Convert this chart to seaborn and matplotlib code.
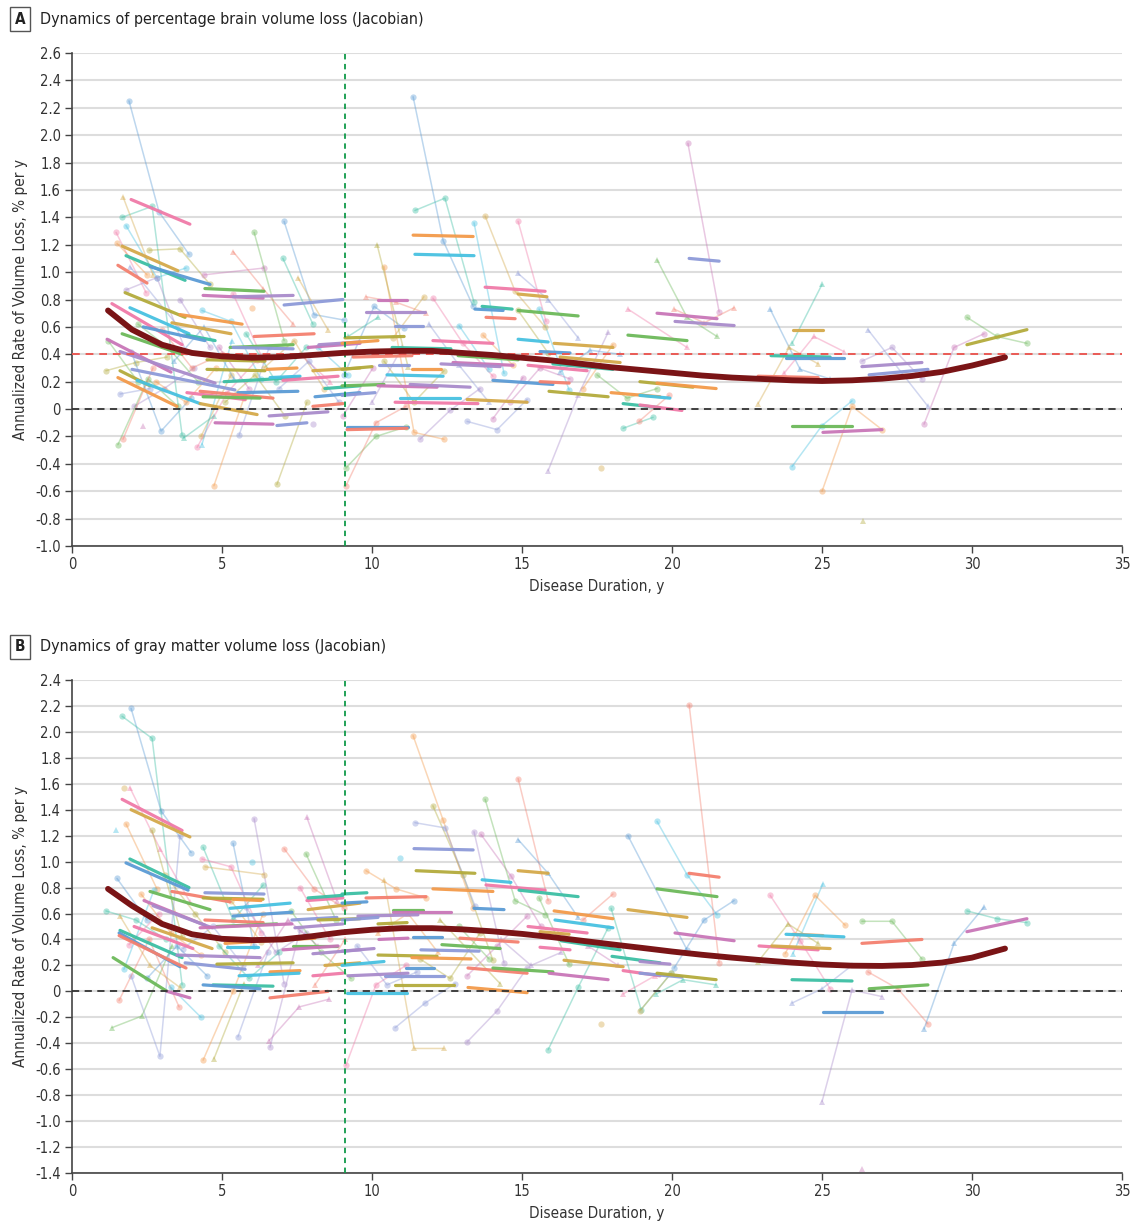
import numpy as np
import pandas as pd
import matplotlib
matplotlib.use("Agg")
import matplotlib.pyplot as plt
import seaborn as sns

# ------------------------------------------------------------------
# Panel A - percentage brain volume loss
# ------------------------------------------------------------------
a_traj_x = [
    [1.9, 2.9, 3.9], [1.67, 2.67, 3.67], [1.7, 2.7], [1.47, 2.47], [1.8, 2.83, 3.8],
    [1.5, 2.5], [2.57, 3.6, 4.6], [1.93, 3.77], [1.8, 2.83, 3.8], [4.4, 6.4],
    [6.07, 7.07], [5.37, 6.37, 7.37], [7.07, 8.07, 9.07], [7.03, 8.03], [7.53, 8.53],
    [5.37, 6.37], [4.33, 5.3, 6.3], [6.0], [1.13, 2.13, 3.17], [1.6, 2.6],
    [2.07, 3.07, 4.07], [2.37], [1.53, 2.53, 3.53], [1.7, 2.7], [1.97, 2.97, 3.97],
    [3.73, 4.73], [4.3, 5.3], [4.17, 5.17, 6.17], [4.33, 5.33], [4.73, 5.73],
    [6.83, 7.83], [5.57, 6.57], [8.03], [9.03, 10.03], [2.2, 3.2, 4.2],
    [3.0, 4.0, 5.0], [3.4, 4.4, 5.4], [5.8, 6.8, 7.8], [6.4, 7.4, 8.4], [7.6, 8.6],
    [8.2, 9.2], [2.8, 3.8, 4.8], [5.1, 6.1, 7.1], [6.9, 7.9, 8.9], [3.6, 4.6],
    [4.9, 5.9], [1.2, 2.2],
    [9.8, 10.8, 11.8], [9.07, 10.07, 11.07], [9.2, 10.2], [10.7, 11.73], [12.03, 13.03, 14.03],
    [12.9, 13.9], [13.7, 14.7], [14.87, 15.87], [13.17, 14.17, 15.17], [11.6, 12.6, 13.6],
    [14.03, 15.03], [9.13, 10.13, 11.13], [9.13, 10.13, 11.13], [16.27, 17.27, 18.27], [18.37, 19.37],
    [17.63], [18.53, 20.5], [15.57, 16.57], [17.03, 18.03], [10.4, 11.4, 12.4],
    [11.9, 12.9, 13.9], [10.0, 11.0], [14.6, 15.6, 16.6], [17.5, 18.5, 19.5], [18.9, 19.9],
    [11.37, 12.37, 13.37], [11.43, 12.43, 13.4], [13.77, 14.77, 15.77], [14.87, 15.8], [13.4, 14.4],
    [10.4, 11.4, 12.4], [10.17, 11.2], [14.87, 15.87, 16.87], [15.87, 16.87, 17.87], [20.53, 21.57],
    [19.5, 20.5, 21.5], [20.07, 21.07, 22.07], [23.27, 24.27, 25.27], [24.0, 25.0], [22.87, 23.9, 24.87],
    [23.73, 24.73, 25.73], [24.0, 25.0, 26.0], [25.0, 26.0, 27.0], [26.37], [26.53, 28.53],
    [26.33, 27.33, 28.33], [28.4, 29.4, 30.4], [29.83, 30.83, 31.83],
]
a_traj_y = [
    [2.25, 1.44, 1.13], [1.40, 1.48, -0.19], [1.55, 0.98], [1.29, 0.85], [1.34, 0.96, 1.03],
    [1.21, 0.98], [1.16, 1.17, 0.91], [1.04, 0.54], [0.87, 0.96, 0.42], [0.98, 1.03],
    [1.29, 0.50], [1.15, 0.88, 0.62], [1.37, 0.69, 0.65], [1.10, 0.62], [0.96, 0.58],
    [0.84, 0.36], [0.72, 0.64, 0.22], [0.74], [0.28, 0.34, 0.38], [0.11, 0.15],
    [0.02, 0.15, 0.30], [-0.12], [-0.26, 0.22, 0.02], [-0.22, 0.30], [0.42, -0.16, 0.08],
    [-0.21, -0.05], [-0.20, 0.25], [-0.28, 0.12, 0.36], [-0.26, 0.50], [-0.56, 0.08],
    [-0.55, 0.05], [-0.19, 0.45], [-0.11], [-0.05, 0.30], [0.62, 0.45, 0.20],
    [0.58, 0.30, 0.40], [0.35, 0.60, 0.22], [0.55, 0.20, 0.45], [0.30, 0.50, 0.15], [0.40, 0.20],
    [0.45, 0.25], [0.20, 0.05, 0.30], [0.05, 0.25, -0.05], [0.15, 0.35, 0.05], [0.80, 0.45],
    [0.45, 0.15], [0.50, 0.20],
    [0.82, 0.78, 0.70], [0.25, 0.75, 0.59], [0.53, 0.67], [0.52, 0.82], [0.81, 0.48, 0.24],
    [0.61, 0.29], [0.54, 0.32], [0.72, 0.41], [-0.09, -0.15, 0.07], [-0.22, -0.01, 0.15],
    [-0.07, 0.23], [-0.43, -0.20, -0.13], [-0.56, -0.10, 0.02], [0.27, 0.43, 0.40], [-0.14, -0.06],
    [-0.43], [0.73, 0.45], [0.73, 0.14], [0.15, 0.47], [0.35, 0.05, 0.28],
    [0.62, 0.32, 0.05], [0.05, 0.45], [0.05, 0.30, 0.22], [0.25, 0.08, 0.15], [-0.09, 0.10],
    [2.28, 1.23, 0.75], [1.45, 1.54, 0.78], [1.41, 0.86, 0.60], [1.37, 0.64], [1.36, 0.26],
    [1.04, -0.17, -0.22], [1.20, 0.31], [0.99, 0.80, 0.52], [-0.45, 0.10, 0.56], [1.94, 0.71],
    [1.09, 0.67, 0.53], [0.73, 0.63, 0.74], [0.73, 0.29, 0.22], [0.48, 0.91], [0.04, 0.45, 0.33],
    [0.26, 0.53, 0.42], [-0.42, -0.12, 0.06], [-0.60, 0.02, -0.15], [-0.82], [0.58, 0.02],
    [0.35, 0.45, 0.22], [-0.11, 0.45, 0.55], [0.67, 0.53, 0.48],
]
a_traj_grp = list(
    "cctcc" "cctcc" "ctcct" "cccc" "c"
    "ctccc" "tcctc" "ccccc" "ctcct" "ccccc"
    "cc"
    "tctcc" "ccccc" "ccctc" "ctccc" "ttccc"
    "ccccc" "ctttc" "ttttt" "tcctt" "ccc"
)

a_fit_x = [
    [1.97, 3.93], [1.67, 3.53], [1.8, 3.77], [2.6, 4.6], [1.53, 2.5], [4.43, 6.4],
    [4.37, 6.37], [5.37, 7.37], [7.07, 9.03], [1.77, 3.77], [3.6, 5.67], [1.93, 3.9],
    [1.33, 3.67], [3.33, 5.3], [3.83, 4.77], [2.37, 4.43], [6.07, 8.07], [1.67, 3.67],
    [1.17, 3.3], [1.6, 4.77], [2.0, 5.43], [1.6, 2.6], [1.53, 3.5], [2.17, 4.27],
    [3.83, 5.77], [4.27, 6.17], [5.07, 7.57], [5.53, 7.53], [4.27, 6.7], [4.37, 6.27],
    [4.77, 6.7], [6.57, 8.53], [6.83, 7.83], [4.5, 6.43], [6.5, 7.5], [6.6, 7.6],
    [7.03, 8.87], [8.03, 9.6], [8.43, 9.6], [8.1, 9.6], [8.03, 9.03], [5.27, 7.37],
    [7.87, 9.6], [8.23, 9.6], [5.37, 7.37], [4.5, 6.43],
    [11.37, 13.37], [11.43, 13.4], [13.77, 15.77], [14.87, 15.83], [13.67, 14.67], [13.43, 14.37],
    [13.8, 14.77], [14.87, 16.87], [10.2, 11.17], [9.8, 11.77], [10.77, 11.7], [9.1, 11.07],
    [9.0, 10.2], [14.87, 15.87], [12.03, 14.03], [16.07, 18.03], [10.67, 12.63], [15.6, 16.6],
    [9.37, 11.33], [12.87, 14.87], [12.7, 14.7], [12.3, 14.27], [10.23, 11.23], [9.0, 10.0],
    [11.33, 12.3], [10.5, 12.37], [15.2, 17.17], [16.27, 18.27], [16.03, 18.03], [14.03, 16.03],
    [15.6, 16.57], [9.0, 10.4], [10.2, 12.17], [11.27, 13.27], [9.0, 10.1], [15.9, 17.87],
    [17.97, 19.6], [10.93, 12.93], [10.77, 13.53], [13.17, 15.17], [18.37, 19.6], [9.17, 11.2],
    [9.17, 11.17], [18.53, 20.5],
    [19.5, 21.5], [20.1, 22.07], [20.57, 21.57], [18.93, 20.7], [19.5, 21.47], [18.93, 19.93],
    [18.93, 20.33], [24.03, 25.03], [23.3, 25.27], [23.8, 25.73], [22.87, 24.87], [24.0, 26.0],
    [25.03, 27.0], [26.33, 28.33], [26.57, 28.53], [29.83, 31.83],
]
a_fit_y = [
    [1.53, 1.35], [1.19, 1.01], [1.12, 0.94], [1.04, 0.91], [1.05, 0.92], [0.88, 0.86],
    [0.83, 0.81], [0.82, 0.83], [0.76, 0.80], [0.85, 0.67], [0.69, 0.62], [0.74, 0.55],
    [0.77, 0.47], [0.63, 0.55], [0.54, 0.50], [0.60, 0.50], [0.53, 0.55], [0.55, 0.40],
    [0.51, 0.27], [0.42, 0.19], [0.29, 0.14], [0.28, 0.17], [0.23, 0.02], [0.21, 0.04],
    [0.12, 0.07], [0.04, -0.04], [0.20, 0.23], [0.12, 0.13], [0.13, 0.08], [0.09, 0.08],
    [-0.10, -0.11], [-0.05, -0.02], [-0.12, -0.10], [0.29, 0.28], [0.29, 0.30], [0.23, 0.24],
    [0.21, 0.24], [0.28, 0.30], [0.15, 0.17], [0.09, 0.12], [0.02, 0.04], [0.45, 0.47],
    [0.45, 0.48], [0.47, 0.49], [0.45, 0.44], [0.36, 0.35],
    [1.27, 1.26], [1.13, 1.12], [0.89, 0.86], [0.84, 0.82], [0.75, 0.73], [0.73, 0.72],
    [0.67, 0.66], [0.72, 0.68], [0.80, 0.80], [0.71, 0.71], [0.61, 0.61], [0.52, 0.53],
    [0.48, 0.50], [0.51, 0.49], [0.50, 0.48], [0.48, 0.45], [0.45, 0.44], [0.42, 0.41],
    [0.38, 0.39], [0.39, 0.36], [0.34, 0.32], [0.33, 0.31], [0.32, 0.32], [0.29, 0.31],
    [0.29, 0.29], [0.25, 0.24], [0.32, 0.28], [0.38, 0.34], [0.33, 0.29], [0.21, 0.18],
    [0.20, 0.19], [0.17, 0.18], [0.17, 0.16], [0.18, 0.16], [0.10, 0.12], [0.13, 0.09],
    [0.12, 0.09], [0.08, 0.08], [0.05, 0.04], [0.07, 0.05], [0.04, 0.01], [-0.13, -0.13],
    [-0.15, -0.14], [0.54, 0.50],
    [0.70, 0.66], [0.64, 0.61], [1.10, 1.08], [0.20, 0.16], [0.19, 0.15], [0.10, 0.08],
    [0.03, -0.01], [0.58, 0.58], [0.39, 0.38], [0.37, 0.37], [0.24, 0.23], [-0.12, -0.12],
    [-0.17, -0.15], [0.31, 0.34], [0.25, 0.29], [0.47, 0.58],
]

a_mean_x = [1.2, 2, 3, 4, 5, 6, 7, 8, 9, 10, 11, 12, 13, 14, 15, 16,
            17, 18, 19, 20, 21, 22, 23, 24, 25, 26, 27, 28, 29, 30, 31.1]
a_mean_y = [0.72, 0.58, 0.47, 0.41, 0.385, 0.375, 0.38, 0.395, 0.41, 0.42, 0.425,
            0.425, 0.41, 0.395, 0.375, 0.355, 0.33, 0.305, 0.285, 0.265, 0.245,
            0.23, 0.22, 0.21, 0.205, 0.21, 0.222, 0.242, 0.272, 0.318, 0.378]

# ------------------------------------------------------------------
# Panel B - gray matter volume loss
# ------------------------------------------------------------------
b_traj_x = [
    [1.97, 2.97, 3.97], [1.67, 2.67, 3.67], [1.73], [1.93, 2.93, 3.93], [1.47],
    [1.8, 2.83], [2.67, 3.67], [1.97, 2.93, 3.6], [6.07, 7.07], [7.83, 8.83],
    [7.8, 8.8], [7.07, 8.07, 9.07], [5.37, 6.07], [4.37, 5.37, 6.37], [4.43, 6.4],
    [4.33, 5.3, 6.3], [6.0], [4.37, 5.37, 6.37], [4.73, 5.73], [5.53, 6.53],
    [6.6, 7.6], [6.57, 7.57, 8.57], [1.33, 2.33, 3.33], [1.57, 2.57, 3.57], [1.5, 2.5],
    [1.13, 2.13, 3.13], [1.6, 2.6, 3.6], [1.9, 2.9], [1.73, 2.73], [2.3, 3.3, 4.3],
    [3.1, 4.1, 5.1], [3.7, 4.7, 5.7], [5.8, 6.8, 7.8], [6.2, 7.2, 8.2], [7.3, 8.3, 9.3],
    [8.1, 9.1], [2.5, 3.5, 4.5], [4.9, 5.9, 6.9], [5.3, 6.3], [7.6, 8.6],
    [3.3, 4.3],
    [11.37, 12.37, 13.37], [12.03, 13.03, 14.03], [11.43, 12.43, 13.43], [13.4, 14.4], [13.63, 14.63, 15.63],
    [13.77, 14.77, 15.77], [14.87, 15.87], [14.87, 15.87, 16.87], [15.87, 16.87, 17.87], [10.4, 11.4, 12.4],
    [9.13, 10.13, 11.13], [10.93], [9.8, 10.8, 11.8], [12.27, 14.27], [10.77, 11.77, 12.77],
    [13.17, 14.17, 15.17], [13.17, 14.17, 15.17], [15.57, 16.57], [17.03, 18.03], [18.53, 20.5],
    [17.97, 18.97, 19.97], [17.63], [18.37, 19.43], [19.5, 20.5, 21.5], [10.2, 11.2, 12.2],
    [11.6, 12.6, 13.6], [9.5, 10.5, 11.5], [14.3, 15.3, 16.3], [16.2, 17.2, 18.2], [12.9, 13.9],
    [20.57, 21.57], [20.07, 21.07, 22.07], [19.47, 20.37, 21.47], [18.93, 19.97], [23.27, 24.27, 25.27],
    [24.03, 25.03], [23.77, 24.77, 25.77], [22.87, 23.87, 24.87], [24.0, 25.0, 26.0], [25.0, 26.0, 27.0],
    [26.33], [26.33, 27.33, 28.33], [26.53, 27.53, 28.53], [28.4, 29.4, 30.4], [29.83, 30.83, 31.83],
]
b_traj_y = [
    [2.18, 1.39, 1.07], [2.12, 1.95, 0.05], [1.57], [1.57, 1.10, 0.69], [1.24],
    [1.29, 0.79], [1.24, 0.42], [0.12, -0.50, 1.20], [1.33, 0.06], [1.34, 0.70],
    [1.06, 0.55], [1.10, 0.79, 0.64], [1.14, 0.35], [1.11, 0.55, 0.82], [0.96, 0.90],
    [1.02, 0.96, 0.45], [1.00], [-0.53, 0.00, 0.60], [-0.52, 0.06], [-0.35, 0.30],
    [-0.43, 0.47], [-0.38, -0.12, -0.06], [-0.28, -0.19, 0.35], [-0.07, 0.40, -0.12], [0.87, 0.55],
    [0.62, 0.55, 0.40], [0.58, 0.20, 0.03], [0.36, 0.60], [0.17, 0.78], [0.75, 0.45, 0.28],
    [0.90, 0.60, 0.30], [0.33, 0.50, 0.20], [0.65, 0.30, 0.45], [0.20, 0.55, 0.35], [0.62, 0.30, 0.10],
    [0.05, 0.40], [0.10, 0.35, 0.12], [0.35, 0.10, 0.30], [0.70, 0.38], [0.80, 0.40],
    [0.03, -0.20],
    [1.97, 1.32, 0.64], [1.43, 0.90, 0.24], [1.30, 1.26, 0.66], [1.23, 0.22], [1.21, 0.89, 0.50],
    [1.48, 0.70, 0.59], [1.64, 0.70], [1.17, 0.91, 0.57], [-0.45, 0.03, 0.49], [0.86, -0.44, -0.44],
    [-0.57, 0.05, 0.20], [1.03], [0.93, 0.79, 0.72], [0.55, 0.06], [-0.28, -0.09, 0.06],
    [-0.39, -0.15, 0.18], [0.12, 0.35, 0.58], [0.72, 0.21], [0.55, 0.75], [1.20, 0.32],
    [0.64, -0.14, 0.14], [-0.25], [-0.02, 0.12], [1.31, 0.90, 0.59], [0.45, 0.60, 0.30],
    [0.25, 0.10, 0.45], [0.35, 0.05, 0.15], [0.40, 0.20, 0.30], [0.45, 0.35, 0.20], [0.50, 0.25],
    [2.21, 0.22], [0.18, 0.55, 0.70], [-0.02, 0.09, 0.05], [-0.15, 0.14], [0.74, 0.39, 0.02],
    [0.29, 0.83], [0.29, 0.74, 0.51], [0.23, 0.52, 0.37], [-0.09, 0.02, 0.20], [-0.85, 0.01, -0.04],
    [-1.37], [0.54, 0.54, 0.25], [0.15, 0.02, -0.25], [-0.29, 0.37, 0.65], [0.62, 0.56, 0.53],
]
b_traj_grp = list(
    "ccctt" "cccct" "ccccc" "ccctc" "cttcc" "ctccc" "ccctc" "tcccc" "c"
    "ccccc" "cctct" "ccctc" "ccccc" "cctct" "ccttc" "cct"
    "cctct" "tttcc" "tctcc"
)

b_fit_x = [
    [1.67, 3.67], [1.97, 3.93], [1.93, 3.9], [1.8, 3.87], [3.33, 5.27], [2.6, 4.6],
    [2.4, 4.43], [2.7, 4.67], [4.43, 6.4], [4.37, 6.37], [5.37, 6.3], [5.27, 7.27],
    [7.83, 9.03], [7.87, 9.6], [7.87, 9.03], [5.37, 7.33], [4.43, 6.37], [4.83, 6.83],
    [4.27, 7.33], [7.43, 9.03], [7.33, 8.83], [8.2, 9.6], [5.1, 8.1], [5.17, 6.2],
    [2.07, 4.03], [2.67, 4.67], [1.6, 3.67], [1.57, 3.6], [1.57, 3.8], [1.37, 3.17],
    [3.17, 3.93], [3.5, 6.27], [3.77, 5.77], [4.83, 7.37], [6.6, 7.6], [5.57, 7.57],
    [8.03, 9.03], [8.43, 9.6], [4.7, 6.7], [4.37, 6.27], [6.6, 8.53], [7.37, 8.83],
    [7.03, 8.87], [8.03, 9.6],
    [11.4, 13.37], [11.47, 13.43], [12.03, 14.03], [13.67, 14.63], [13.8, 15.77], [14.87, 15.87],
    [14.9, 16.87], [13.4, 14.4], [9.8, 11.8], [10.7, 11.7], [10.7, 12.63], [9.53, 11.53],
    [9.0, 10.2], [10.2, 11.17], [16.07, 18.03], [16.1, 18.03], [15.2, 17.17], [15.6, 16.57],
    [16.3, 18.27], [11.37, 12.33], [12.93, 14.87], [12.33, 14.27], [10.23, 11.2], [9.0, 10.07],
    [11.63, 13.57], [10.2, 12.17], [11.33, 13.3], [9.0, 10.4], [15.6, 16.6], [16.4, 18.37],
    [18.0, 19.6], [11.13, 12.07], [13.2, 15.17], [14.03, 16.03], [15.9, 17.87], [9.2, 11.2],
    [10.43, 12.4], [10.77, 12.73], [13.2, 15.17], [9.17, 11.17], [18.37, 19.6], [18.53, 20.5],
    [9.0, 9.83], [9.0, 9.83],
    [20.57, 21.57], [19.5, 21.5], [20.1, 22.07], [18.93, 19.93], [18.93, 20.33], [19.5, 21.47],
    [24.03, 25.03], [23.8, 25.73], [22.9, 24.87], [23.33, 25.27], [24.0, 26.0], [25.03, 27.0],
    [26.33, 28.33], [26.57, 28.53], [29.83, 31.83],
]
b_fit_y = [
    [1.48, 1.24], [1.40, 1.19], [1.02, 0.80], [0.99, 0.78], [0.77, 0.69], [0.77, 0.63],
    [0.70, 0.51], [0.66, 0.49], [0.76, 0.75], [0.72, 0.71], [0.71, 0.70], [0.64, 0.68],
    [0.70, 0.72], [0.63, 0.68], [0.72, 0.74], [0.58, 0.61], [0.55, 0.53], [0.50, 0.52],
    [0.49, 0.52], [0.49, 0.52], [0.55, 0.57], [0.55, 0.56], [0.37, 0.41], [0.34, 0.34],
    [0.50, 0.33], [0.49, 0.33], [0.47, 0.26], [0.45, 0.19], [0.43, 0.18], [0.26, 0.00],
    [0.00, -0.05], [0.28, 0.26], [0.22, 0.17], [0.21, 0.22], [0.15, 0.16], [0.12, 0.14],
    [0.12, 0.14], [0.20, 0.22], [0.05, 0.04], [0.05, 0.02], [-0.05, 0.00], [0.35, 0.35],
    [0.32, 0.35], [0.29, 0.32],
    [1.10, 1.09], [0.93, 0.91], [0.79, 0.77], [0.86, 0.84], [0.82, 0.78], [0.93, 0.91],
    [0.78, 0.73], [0.64, 0.63], [0.72, 0.73], [0.63, 0.63], [0.61, 0.61], [0.58, 0.59],
    [0.55, 0.57], [0.52, 0.53], [0.62, 0.56], [0.55, 0.49], [0.50, 0.45], [0.46, 0.44],
    [0.39, 0.32], [0.42, 0.42], [0.41, 0.38], [0.36, 0.33], [0.40, 0.41], [0.31, 0.33],
    [0.32, 0.31], [0.28, 0.27], [0.26, 0.25], [0.20, 0.23], [0.34, 0.32], [0.24, 0.19],
    [0.27, 0.22], [0.18, 0.18], [0.18, 0.14], [0.18, 0.15], [0.14, 0.09], [0.12, 0.14],
    [0.12, 0.12], [0.05, 0.05], [0.03, -0.01], [-0.01, -0.01], [0.16, 0.12], [0.63, 0.57],
    [0.75, 0.76], [0.68, 0.69],
    [0.91, 0.88], [0.79, 0.73], [0.45, 0.39], [0.23, 0.21], [0.14, 0.11], [0.14, 0.09],
    [0.44, 0.43], [0.44, 0.42], [0.35, 0.32], [0.35, 0.33], [0.09, 0.08], [-0.16, -0.16],
    [0.37, 0.40], [0.02, 0.05], [0.46, 0.56],
]

b_mean_x = [1.2, 2, 3, 4, 5, 6, 7, 8, 9, 10, 11, 12, 13, 14, 15, 16,
            17, 18, 19, 20, 21, 22, 23, 24, 25, 26, 27, 28, 29, 30, 31.1]
b_mean_y = [0.79, 0.66, 0.52, 0.44, 0.405, 0.395, 0.40, 0.425, 0.455, 0.475, 0.487,
            0.487, 0.478, 0.463, 0.443, 0.418, 0.39, 0.362, 0.335, 0.307, 0.282,
            0.26, 0.24, 0.222, 0.207, 0.198, 0.196, 0.203, 0.222, 0.26, 0.33]

# ------------------------------------------------------------------
# Styling
# ------------------------------------------------------------------
sns.set_theme(style="white")
plt.rcParams["font.family"] = ["Liberation Sans Narrow", "DejaVu Sans"]
plt.rcParams["font.stretch"] = "condensed"

PALETTE = ["#5b9bd5", "#f39a4a", "#6cb95a", "#f07aa8", "#a98bcb", "#3cbfa4",
           "#b3ab3c", "#f4806f", "#47c1e1", "#c976b8", "#d4a94a", "#8d9ad8"]
MEAN_COLOR = "#7a1416"
TEXT_COLOR = "#333333"


def to_long(xs_list, ys_list, groups=None):
    rows = []
    for i, (xs, ys) in enumerate(zip(xs_list, ys_list)):
        g = groups[i] if groups is not None else "c"
        for x, y in zip(xs, ys):
            rows.append({"id": i, "x": x, "y": y, "grp": g})
    return pd.DataFrame(rows)


def draw_panel(ax, tx, ty, tg, fx, fy, mx, my, ylim, red_ref):
    tr = to_long(tx, ty, tg)
    pal_t = {i: PALETTE[(i * 5) % len(PALETTE)] for i in tr["id"].unique()}
    sns.lineplot(data=tr, x="x", y="y", hue="id", style="grp",
                 markers={"c": "o", "t": "^"}, dashes=False, palette=pal_t,
                 estimator=None, legend=False, linewidth=1.1, alpha=0.4,
                 markersize=4.5, markeredgewidth=0, ax=ax)

    ft = to_long(fx, fy)
    pal_f = {i: PALETTE[(i * 7 + 3) % len(PALETTE)] for i in ft["id"].unique()}
    sns.lineplot(data=ft, x="x", y="y", hue="id", palette=pal_f,
                 estimator=None, legend=False, linewidth=2.3, alpha=0.95, ax=ax)

    ax.axhline(0, color="#333333", ls=(0, (4, 3)), lw=1.3, zorder=4)
    if red_ref is not None:
        ax.axhline(red_ref, color="#ea5a55", ls=(0, (4, 3)), lw=1.4, zorder=4)
    ax.axvline(9.1, color="#109a4a", ls=(0, (3, 2.5)), lw=1.3, zorder=4)

    sns.lineplot(x=mx, y=my, color=MEAN_COLOR, linewidth=4.2, ax=ax, zorder=6)

    ax.set_xlim(0, 35)
    ax.set_ylim(*ylim)
    yt = np.round(np.arange(ylim[0], ylim[1] + 0.001, 0.2), 1)
    ax.set_yticks(yt)
    ax.set_yticklabels(["0" if abs(v) < 1e-9 else f"{v:.1f}" for v in yt])
    ax.set_xticks(range(0, 36, 5))
    ax.set_xticklabels([str(v) for v in range(0, 36, 5)])
    ax.yaxis.grid(True, color="#dddddd", lw=1.5)
    ax.xaxis.grid(False)
    ax.set_axisbelow(True)
    for side in ["top", "right"]:
        ax.spines[side].set_visible(False)
    for side in ["left", "bottom"]:
        ax.spines[side].set_color("#444444")
        ax.spines[side].set_linewidth(1.2)
    ax.tick_params(axis="both", direction="out", length=5, width=1, color="#444444",
                   labelsize=10.5, labelcolor=TEXT_COLOR, left=True, bottom=True, pad=3)
    ax.set_xlabel("Disease Duration, y", fontsize=11, color=TEXT_COLOR, labelpad=5)
    ax.set_ylabel("Annualized Rate of Volume Loss, % per y", fontsize=11,
                  color=TEXT_COLOR, labelpad=5)


fig = plt.figure(figsize=(11.32, 12.26), dpi=100)
axA = fig.add_axes([0.0636, 0.5546, 0.9276, 0.4022])
axB = fig.add_axes([0.0636, 0.0432, 0.9276, 0.4022])

draw_panel(axA, a_traj_x, a_traj_y, a_traj_grp, a_fit_x, a_fit_y,
           a_mean_x, a_mean_y, (-1.0, 2.6), 0.4)
draw_panel(axB, b_traj_x, b_traj_y, b_traj_grp, b_fit_x, b_fit_y,
           b_mean_x, b_mean_y, (-1.4, 2.4), None)

box = dict(boxstyle="square,pad=0.3", fc="white", ec="#555555", lw=1)
for letter, title, y in [("A", "Dynamics of percentage brain volume loss (Jacobian)", 0.9845),
                         ("B", "Dynamics of gray matter volume loss (Jacobian)", 0.4723)]:
    fig.text(0.0177, y, letter, fontsize=11, fontweight="bold", color="#222222",
             ha="center", va="center", bbox=box)
    fig.text(0.0355, y, title, fontsize=11.5, color="#222222", ha="left", va="center")

fig.savefig("out.png", dpi=100)
